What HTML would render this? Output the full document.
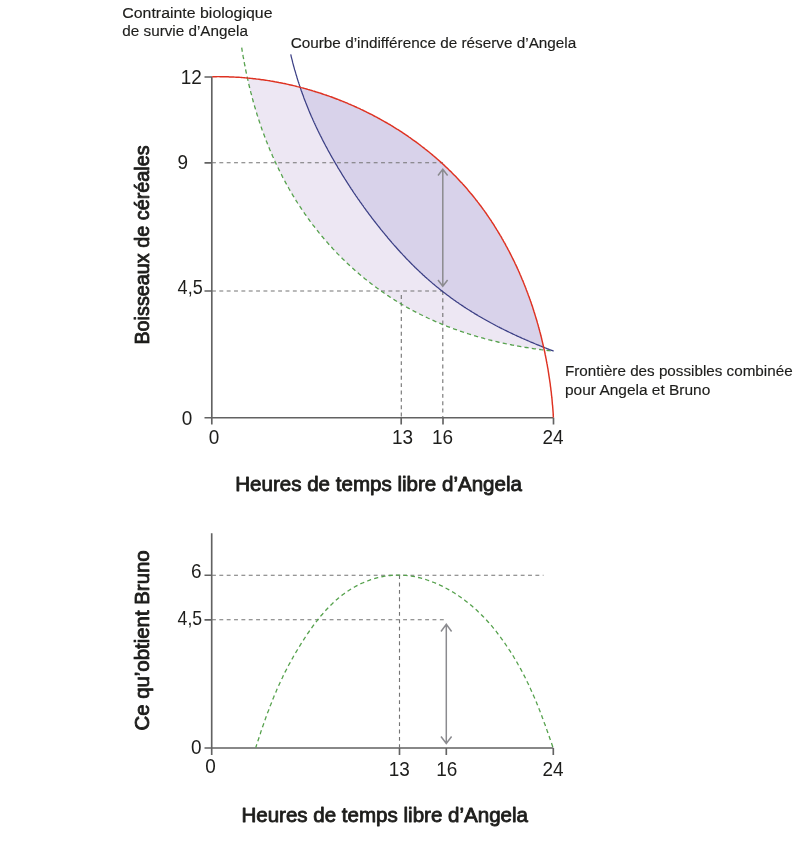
<!DOCTYPE html>
<html lang="fr">
<head>
<meta charset="utf-8">
<title>Frontière des possibles combinée pour Angela et Bruno</title>
<style>
html,body{margin:0;padding:0;background:#fff;}
body{width:810px;height:842px;overflow:hidden;}
svg{display:block;}
text{font-family:"Liberation Sans",sans-serif;fill:#1d1d1b;}
.tick{font-size:20.4px;}
.lab{font-size:15.2px;stroke:#1d1d1b;stroke-width:.15px;}
.ttl{font-size:20.2px;stroke:#1d1d1b;stroke-width:.85px;stroke-linejoin:round;}
.ax{stroke:#626262;stroke-width:1.65;fill:none;}
.dash{stroke:#747474;stroke-width:1.12;fill:none;stroke-dasharray:3.9 3.45;}
.arr{stroke:#8b8b8f;stroke-width:1.5;fill:none;}
.grn{stroke:#55a14c;stroke-width:1.3;fill:none;stroke-dasharray:4.2 3.2;}
.red{stroke:#de3222;stroke-width:1.45;fill:none;}
.blu{stroke:#3b3f85;stroke-width:1.25;fill:none;}
</style>
</head>
<body>
<svg width="810" height="842" viewBox="0 0 810 842">
<rect width="810" height="842" fill="#ffffff"/>
<!-- shaded regions -->
<path d="M246.9 78.0 L248.3 78.1 L249.6 78.2 L250.9 78.4 L252.3 78.5 L253.6 78.7 L254.9 78.8 L256.3 79.0 L257.6 79.1 L258.9 79.3 L260.3 79.5 L261.6 79.7 L262.9 79.8 L264.3 80.0 L265.6 80.2 L266.9 80.4 L268.2 80.6 L269.6 80.8 L270.9 81.1 L272.2 81.3 L273.6 81.5 L274.9 81.8 L276.2 82.0 L277.5 82.2 L278.9 82.5 L280.2 82.7 L281.5 83.0 L282.8 83.3 L284.2 83.5 L285.5 83.8 L286.8 84.1 L288.1 84.4 L289.4 84.7 L290.7 85.0 L292.1 85.3 L293.4 85.6 L294.7 85.9 L296.0 86.2 L297.3 86.6 L298.6 86.9 L299.9 87.2 L301.2 87.6 L302.5 87.9 L303.8 88.3 L305.2 88.6 L306.5 89.0 L307.8 89.4 L309.1 89.7 L310.4 90.1 L311.7 90.5 L312.9 90.9 L314.2 91.3 L315.5 91.7 L316.8 92.1 L318.1 92.5 L319.4 92.9 L320.7 93.3 L322.0 93.7 L323.3 94.2 L324.5 94.6 L325.8 95.0 L327.1 95.5 L328.4 95.9 L329.7 96.4 L330.9 96.8 L332.2 97.3 L333.5 97.8 L334.7 98.2 L336.0 98.7 L337.3 99.2 L338.5 99.7 L339.8 100.2 L341.1 100.7 L342.3 101.2 L343.6 101.7 L344.8 102.2 L346.1 102.7 L347.3 103.2 L348.6 103.8 L349.8 104.3 L351.1 104.8 L352.3 105.4 L353.5 105.9 L354.8 106.5 L356.0 107.0 L357.2 107.6 L358.5 108.2 L359.7 108.7 L360.9 109.3 L362.2 109.9 L363.4 110.5 L364.6 111.1 L365.8 111.7 L367.0 112.3 L368.2 112.9 L369.4 113.5 L370.7 114.1 L371.9 114.7 L373.1 115.3 L374.3 116.0 L375.4 116.6 L376.6 117.2 L377.8 117.9 L379.0 118.5 L380.2 119.2 L381.4 119.8 L382.6 120.5 L383.7 121.2 L384.9 121.8 L386.1 122.5 L387.3 123.2 L388.4 123.9 L389.6 124.5 L390.7 125.2 L391.9 125.9 L393.1 126.6 L394.2 127.4 L395.4 128.1 L396.5 128.8 L397.6 129.5 L398.8 130.2 L399.9 131.0 L401.1 131.7 L402.2 132.4 L403.3 133.2 L404.4 133.9 L405.5 134.7 L406.7 135.4 L407.8 136.2 L408.9 137.0 L410.0 137.7 L411.1 138.5 L412.2 139.3 L413.3 140.1 L414.4 140.8 L415.5 141.6 L416.6 142.4 L417.6 143.2 L418.7 144.0 L419.8 144.8 L420.9 145.7 L421.9 146.5 L423.0 147.3 L424.1 148.1 L425.1 149.0 L426.2 149.8 L427.2 150.6 L428.3 151.5 L429.3 152.3 L430.4 153.2 L431.4 154.0 L432.4 154.9 L433.4 155.8 L434.5 156.6 L435.5 157.5 L436.5 158.4 L437.5 159.3 L438.5 160.1 L439.5 161.0 L440.5 161.9 L441.5 162.8 L442.5 163.7 L443.5 164.6 L444.5 165.6 L445.5 166.5 L446.4 167.4 L447.4 168.3 L448.4 169.2 L449.3 170.2 L450.3 171.1 L451.3 172.0 L452.2 173.0 L453.1 173.9 L454.1 174.9 L455.0 175.8 L456.0 176.8 L456.9 177.8 L457.8 178.7 L458.7 179.7 L459.6 180.7 L460.5 181.7 L461.5 182.6 L462.4 183.6 L463.2 184.6 L464.1 185.6 L465.0 186.6 L465.9 187.6 L466.8 188.6 L467.7 189.6 L468.5 190.7 L469.4 191.7 L470.2 192.7 L471.1 193.7 L472.0 194.8 L472.8 195.8 L473.6 196.8 L474.5 197.9 L475.3 198.9 L476.1 200.0 L477.0 201.0 L477.8 202.1 L478.6 203.1 L479.4 204.2 L480.2 205.3 L481.0 206.3 L481.8 207.4 L482.6 208.5 L483.4 209.6 L484.2 210.6 L484.9 211.7 L485.7 212.8 L486.5 213.9 L487.2 215.0 L488.0 216.1 L488.7 217.2 L489.5 218.3 L490.2 219.4 L491.0 220.5 L491.7 221.7 L492.4 222.8 L493.2 223.9 L493.9 225.0 L494.6 226.2 L495.3 227.3 L496.0 228.4 L496.7 229.6 L497.4 230.7 L498.1 231.8 L498.8 233.0 L499.5 234.1 L500.2 235.3 L500.9 236.4 L501.6 237.6 L502.2 238.8 L502.9 239.9 L503.5 241.1 L504.2 242.3 L504.9 243.4 L505.5 244.6 L506.1 245.8 L506.8 247.0 L507.4 248.1 L508.0 249.3 L508.7 250.5 L509.3 251.7 L509.9 252.9 L510.5 254.1 L511.1 255.3 L511.7 256.5 L512.3 257.7 L512.9 258.9 L513.5 260.1 L514.1 261.3 L514.7 262.5 L515.2 263.7 L515.8 264.9 L516.4 266.1 L517.0 267.4 L517.5 268.6 L518.1 269.8 L518.6 271.0 L519.2 272.3 L519.7 273.5 L520.2 274.7 L520.8 276.0 L521.3 277.2 L521.8 278.4 L522.3 279.7 L522.9 280.9 L523.4 282.2 L523.9 283.4 L524.4 284.7 L524.9 285.9 L525.4 287.2 L525.9 288.4 L526.3 289.7 L526.8 290.9 L527.3 292.2 L527.8 293.4 L528.2 294.7 L528.7 296.0 L529.2 297.2 L529.6 298.5 L530.1 299.8 L530.5 301.0 L531.0 302.3 L531.4 303.6 L531.8 304.9 L532.3 306.1 L532.7 307.4 L533.1 308.7 L533.5 310.0 L533.9 311.3 L534.3 312.5 L534.7 313.8 L535.1 315.1 L535.5 316.4 L535.9 317.7 L536.3 319.0 L536.7 320.3 L537.1 321.6 L537.4 322.9 L537.8 324.1 L538.2 325.4 L538.5 326.7 L538.9 328.0 L539.2 329.3 L539.6 330.6 L539.9 331.9 L540.3 333.2 L540.6 334.5 L540.9 335.8 L541.3 337.1 L541.6 338.5 L541.9 339.8 L542.2 341.1 L542.5 342.4 L542.8 343.7 L543.1 345.0 L543.4 346.3 L543.7 347.6 L544.0 348.9 L544.3 350.2 L543.9 350.0 L542.5 349.8 L541.1 349.7 L539.8 349.5 L538.4 349.3 L537.1 349.1 L535.7 348.9 L534.4 348.8 L533.0 348.6 L531.7 348.4 L530.3 348.2 L529.0 348.0 L527.6 347.7 L526.3 347.5 L525.0 347.3 L523.7 347.1 L522.3 346.9 L521.0 346.7 L519.7 346.4 L518.4 346.2 L517.1 346.0 L515.8 345.7 L514.5 345.5 L513.2 345.2 L511.9 345.0 L510.6 344.7 L509.3 344.5 L508.1 344.2 L506.8 343.9 L505.5 343.7 L504.2 343.4 L503.0 343.1 L501.7 342.8 L500.5 342.6 L499.2 342.3 L497.9 342.0 L496.7 341.7 L495.4 341.4 L494.2 341.1 L493.0 340.8 L491.7 340.5 L490.5 340.2 L489.3 339.9 L488.0 339.5 L486.8 339.2 L485.6 338.9 L484.4 338.6 L483.2 338.2 L482.0 337.9 L480.8 337.6 L479.6 337.2 L478.4 336.9 L477.2 336.5 L476.0 336.2 L474.8 335.8 L473.6 335.5 L472.4 335.1 L471.2 334.8 L470.1 334.4 L468.9 334.0 L467.7 333.6 L466.6 333.3 L465.4 332.9 L464.2 332.5 L463.1 332.1 L461.9 331.7 L460.8 331.3 L459.6 330.9 L458.5 330.5 L457.3 330.1 L456.2 329.7 L455.1 329.3 L453.9 328.9 L452.8 328.5 L451.7 328.1 L450.6 327.6 L449.5 327.2 L448.4 326.8 L447.2 326.4 L446.1 325.9 L445.0 325.5 L443.9 325.0 L442.8 324.6 L441.7 324.1 L440.7 323.7 L439.6 323.2 L438.5 322.8 L437.4 322.3 L436.3 321.9 L435.2 321.4 L434.2 320.9 L433.1 320.4 L432.0 320.0 L431.0 319.5 L429.9 319.0 L428.9 318.5 L427.8 318.0 L426.8 317.5 L425.7 317.0 L424.7 316.5 L423.6 316.0 L422.6 315.5 L421.6 315.0 L420.5 314.5 L419.5 314.0 L418.5 313.5 L417.5 312.9 L416.4 312.4 L415.4 311.9 L414.4 311.4 L413.4 310.8 L412.4 310.3 L411.4 309.8 L410.4 309.2 L409.4 308.7 L408.4 308.1 L407.4 307.6 L406.4 307.0 L405.5 306.4 L404.5 305.9 L403.5 305.3 L402.5 304.8 L401.6 304.2 L400.6 303.6 L399.6 303.0 L398.7 302.5 L397.7 301.9 L396.7 301.3 L395.8 300.7 L394.8 300.1 L393.9 299.5 L392.9 298.9 L392.0 298.3 L391.1 297.7 L390.1 297.1 L389.2 296.5 L388.3 295.9 L387.3 295.3 L386.4 294.6 L385.5 294.0 L384.6 293.4 L383.7 292.8 L382.8 292.1 L381.8 291.5 L380.9 290.9 L380.0 290.2 L379.1 289.6 L378.2 288.9 L377.3 288.3 L376.4 287.6 L375.6 287.0 L374.7 286.3 L373.8 285.7 L372.9 285.0 L372.0 284.3 L371.2 283.7 L370.3 283.0 L369.4 282.3 L368.6 281.7 L367.7 281.0 L366.8 280.3 L366.0 279.6 L365.1 278.9 L364.3 278.2 L363.4 277.5 L362.6 276.8 L361.7 276.1 L360.9 275.4 L360.1 274.7 L359.2 274.0 L358.4 273.3 L357.6 272.6 L356.7 271.9 L355.9 271.2 L355.1 270.4 L354.3 269.7 L353.5 269.0 L352.7 268.3 L351.8 267.5 L351.0 266.8 L350.2 266.0 L349.4 265.3 L348.6 264.6 L347.8 263.8 L347.0 263.1 L346.3 262.3 L345.5 261.6 L344.7 260.8 L343.9 260.0 L343.1 259.3 L342.3 258.5 L341.6 257.7 L340.8 257.0 L340.0 256.2 L339.3 255.4 L338.5 254.6 L337.7 253.9 L337.0 253.1 L336.2 252.3 L335.5 251.5 L334.7 250.7 L334.0 249.9 L333.2 249.1 L332.5 248.3 L331.8 247.5 L331.0 246.7 L330.3 245.9 L329.6 245.1 L328.8 244.3 L328.1 243.4 L327.4 242.6 L326.7 241.8 L326.0 241.0 L325.2 240.1 L324.5 239.3 L323.8 238.5 L323.1 237.6 L322.4 236.8 L321.7 236.0 L321.0 235.1 L320.3 234.3 L319.6 233.4 L318.9 232.6 L318.2 231.7 L317.6 230.9 L316.9 230.0 L316.2 229.1 L315.5 228.3 L314.8 227.4 L314.2 226.5 L313.5 225.7 L312.8 224.8 L312.2 223.9 L311.5 223.0 L310.8 222.2 L310.2 221.3 L309.5 220.4 L308.9 219.5 L308.2 218.6 L307.6 217.7 L306.9 216.8 L306.3 215.9 L305.7 215.0 L305.0 214.1 L304.4 213.2 L303.8 212.3 L303.1 211.3 L302.5 210.4 L301.9 209.5 L301.3 208.6 L300.7 207.7 L300.0 206.7 L299.4 205.8 L298.8 204.9 L298.2 203.9 L297.6 203.0 L297.0 202.0 L296.4 201.1 L295.8 200.1 L295.2 199.2 L294.7 198.2 L294.1 197.3 L293.5 196.3 L292.9 195.4 L292.3 194.4 L291.8 193.4 L291.2 192.5 L290.6 191.5 L290.0 190.5 L289.5 189.5 L288.9 188.5 L288.4 187.6 L287.8 186.6 L287.3 185.6 L286.7 184.6 L286.2 183.6 L285.6 182.6 L285.1 181.6 L284.5 180.6 L284.0 179.6 L283.5 178.6 L282.9 177.6 L282.4 176.6 L281.9 175.5 L281.4 174.5 L280.8 173.5 L280.3 172.5 L279.8 171.4 L279.3 170.4 L278.8 169.4 L278.3 168.3 L277.8 167.3 L277.3 166.3 L276.8 165.2 L276.3 164.2 L275.8 163.1 L275.3 162.1 L274.8 161.0 L274.3 160.0 L273.8 158.9 L273.4 157.8 L272.9 156.8 L272.4 155.7 L272.0 154.6 L271.5 153.5 L271.0 152.5 L270.6 151.4 L270.1 150.3 L269.6 149.2 L269.2 148.1 L268.7 147.0 L268.3 145.9 L267.9 144.8 L267.4 143.7 L267.0 142.6 L266.5 141.5 L266.1 140.4 L265.7 139.3 L265.3 138.2 L264.8 137.1 L264.4 135.9 L264.0 134.8 L263.6 133.7 L263.2 132.6 L262.8 131.4 L262.3 130.3 L261.9 129.2 L261.5 128.0 L261.1 126.9 L260.7 125.7 L260.4 124.6 L260.0 123.4 L259.6 122.3 L259.2 121.1 L258.8 119.9 L258.4 118.8 L258.1 117.6 L257.7 116.4 L257.3 115.3 L256.9 114.1 L256.6 112.9 L256.2 111.7 L255.9 110.6 L255.5 109.4 L255.2 108.2 L254.8 107.0 L254.5 105.8 L254.1 104.6 L253.8 103.4 L253.4 102.2 L253.1 101.0 L252.8 99.8 L252.4 98.6 L252.1 97.3 L251.8 96.1 L251.5 94.9 L251.2 93.7 L250.8 92.4 L250.5 91.2 L250.2 90.0 L249.9 88.7 L249.6 87.5 L249.3 86.3 L249.0 85.0 L248.7 83.8 L248.4 82.5 L248.1 81.3 L247.9 80.0 L247.6 78.7 L247.3 77.5 Z" fill="#ede7f3"/>
<path d="M299.9 87.2 L301.2 87.6 L302.5 87.9 L303.8 88.3 L305.2 88.6 L306.5 89.0 L307.8 89.4 L309.1 89.7 L310.4 90.1 L311.7 90.5 L312.9 90.9 L314.2 91.3 L315.5 91.7 L316.8 92.1 L318.1 92.5 L319.4 92.9 L320.7 93.3 L322.0 93.7 L323.3 94.2 L324.5 94.6 L325.8 95.0 L327.1 95.5 L328.4 95.9 L329.7 96.4 L330.9 96.8 L332.2 97.3 L333.5 97.8 L334.7 98.2 L336.0 98.7 L337.3 99.2 L338.5 99.7 L339.8 100.2 L341.1 100.7 L342.3 101.2 L343.6 101.7 L344.8 102.2 L346.1 102.7 L347.3 103.2 L348.6 103.8 L349.8 104.3 L351.1 104.8 L352.3 105.4 L353.5 105.9 L354.8 106.5 L356.0 107.0 L357.2 107.6 L358.5 108.2 L359.7 108.7 L360.9 109.3 L362.2 109.9 L363.4 110.5 L364.6 111.1 L365.8 111.7 L367.0 112.3 L368.2 112.9 L369.4 113.5 L370.7 114.1 L371.9 114.7 L373.1 115.3 L374.3 116.0 L375.4 116.6 L376.6 117.2 L377.8 117.9 L379.0 118.5 L380.2 119.2 L381.4 119.8 L382.6 120.5 L383.7 121.2 L384.9 121.8 L386.1 122.5 L387.3 123.2 L388.4 123.9 L389.6 124.5 L390.7 125.2 L391.9 125.9 L393.1 126.6 L394.2 127.4 L395.4 128.1 L396.5 128.8 L397.6 129.5 L398.8 130.2 L399.9 131.0 L401.1 131.7 L402.2 132.4 L403.3 133.2 L404.4 133.9 L405.5 134.7 L406.7 135.4 L407.8 136.2 L408.9 137.0 L410.0 137.7 L411.1 138.5 L412.2 139.3 L413.3 140.1 L414.4 140.8 L415.5 141.6 L416.6 142.4 L417.6 143.2 L418.7 144.0 L419.8 144.8 L420.9 145.7 L421.9 146.5 L423.0 147.3 L424.1 148.1 L425.1 149.0 L426.2 149.8 L427.2 150.6 L428.3 151.5 L429.3 152.3 L430.4 153.2 L431.4 154.0 L432.4 154.9 L433.4 155.8 L434.5 156.6 L435.5 157.5 L436.5 158.4 L437.5 159.3 L438.5 160.1 L439.5 161.0 L440.5 161.9 L441.5 162.8 L442.5 163.7 L443.5 164.6 L444.5 165.6 L445.5 166.5 L446.4 167.4 L447.4 168.3 L448.4 169.2 L449.3 170.2 L450.3 171.1 L451.3 172.0 L452.2 173.0 L453.1 173.9 L454.1 174.9 L455.0 175.8 L456.0 176.8 L456.9 177.8 L457.8 178.7 L458.7 179.7 L459.6 180.7 L460.5 181.7 L461.5 182.6 L462.4 183.6 L463.2 184.6 L464.1 185.6 L465.0 186.6 L465.9 187.6 L466.8 188.6 L467.7 189.6 L468.5 190.7 L469.4 191.7 L470.2 192.7 L471.1 193.7 L472.0 194.8 L472.8 195.8 L473.6 196.8 L474.5 197.9 L475.3 198.9 L476.1 200.0 L477.0 201.0 L477.8 202.1 L478.6 203.1 L479.4 204.2 L480.2 205.3 L481.0 206.3 L481.8 207.4 L482.6 208.5 L483.4 209.6 L484.2 210.6 L484.9 211.7 L485.7 212.8 L486.5 213.9 L487.2 215.0 L488.0 216.1 L488.7 217.2 L489.5 218.3 L490.2 219.4 L491.0 220.5 L491.7 221.7 L492.4 222.8 L493.2 223.9 L493.9 225.0 L494.6 226.2 L495.3 227.3 L496.0 228.4 L496.7 229.6 L497.4 230.7 L498.1 231.8 L498.8 233.0 L499.5 234.1 L500.2 235.3 L500.9 236.4 L501.6 237.6 L502.2 238.8 L502.9 239.9 L503.5 241.1 L504.2 242.3 L504.9 243.4 L505.5 244.6 L506.1 245.8 L506.8 247.0 L507.4 248.1 L508.0 249.3 L508.7 250.5 L509.3 251.7 L509.9 252.9 L510.5 254.1 L511.1 255.3 L511.7 256.5 L512.3 257.7 L512.9 258.9 L513.5 260.1 L514.1 261.3 L514.7 262.5 L515.2 263.7 L515.8 264.9 L516.4 266.1 L517.0 267.4 L517.5 268.6 L518.1 269.8 L518.6 271.0 L519.2 272.3 L519.7 273.5 L520.2 274.7 L520.8 276.0 L521.3 277.2 L521.8 278.4 L522.3 279.7 L522.9 280.9 L523.4 282.2 L523.9 283.4 L524.4 284.7 L524.9 285.9 L525.4 287.2 L525.9 288.4 L526.3 289.7 L526.8 290.9 L527.3 292.2 L527.8 293.4 L528.2 294.7 L528.7 296.0 L529.2 297.2 L529.6 298.5 L530.1 299.8 L530.5 301.0 L531.0 302.3 L531.4 303.6 L531.8 304.9 L532.3 306.1 L532.7 307.4 L533.1 308.7 L533.5 310.0 L533.9 311.3 L534.3 312.5 L534.7 313.8 L535.1 315.1 L535.5 316.4 L535.9 317.7 L536.3 319.0 L536.7 320.3 L537.1 321.6 L537.4 322.9 L537.8 324.1 L538.2 325.4 L538.5 326.7 L538.9 328.0 L539.2 329.3 L539.6 330.6 L539.9 331.9 L540.3 333.2 L540.6 334.5 L540.9 335.8 L541.3 337.1 L541.6 338.5 L541.9 339.8 L542.2 341.1 L542.5 342.4 L542.8 343.7 L543.1 345.0 L543.4 346.3 L543.7 347.6 L543.5 347.2 L542.5 346.8 L541.5 346.4 L540.5 346.0 L539.5 345.6 L538.5 345.2 L537.5 344.8 L536.5 344.4 L535.5 344.0 L534.5 343.5 L533.5 343.1 L532.5 342.7 L531.5 342.3 L530.5 341.9 L529.6 341.5 L528.6 341.0 L527.6 340.6 L526.6 340.2 L525.6 339.8 L524.7 339.3 L523.7 338.9 L522.7 338.5 L521.8 338.1 L520.8 337.6 L519.8 337.2 L518.9 336.7 L517.9 336.3 L516.9 335.9 L516.0 335.4 L515.0 335.0 L514.1 334.5 L513.1 334.1 L512.2 333.6 L511.2 333.2 L510.3 332.7 L509.3 332.3 L508.4 331.8 L507.4 331.4 L506.5 330.9 L505.5 330.4 L504.6 330.0 L503.7 329.5 L502.7 329.0 L501.8 328.6 L500.9 328.1 L499.9 327.6 L499.0 327.1 L498.1 326.7 L497.2 326.2 L496.2 325.7 L495.3 325.2 L494.4 324.7 L493.5 324.2 L492.6 323.8 L491.7 323.3 L490.7 322.8 L489.8 322.3 L488.9 321.8 L488.0 321.3 L487.1 320.8 L486.2 320.3 L485.3 319.8 L484.4 319.3 L483.5 318.8 L482.6 318.2 L481.8 317.7 L480.9 317.2 L480.0 316.7 L479.1 316.2 L478.2 315.7 L477.3 315.1 L476.5 314.6 L475.6 314.1 L474.7 313.6 L473.8 313.0 L473.0 312.5 L472.1 312.0 L471.2 311.4 L470.4 310.9 L469.5 310.3 L468.6 309.8 L467.8 309.3 L466.9 308.7 L466.1 308.2 L465.2 307.6 L464.4 307.1 L463.5 306.5 L462.7 305.9 L461.8 305.4 L461.0 304.8 L460.2 304.3 L459.3 303.7 L458.5 303.1 L457.7 302.5 L456.8 302.0 L456.0 301.4 L455.2 300.8 L454.4 300.2 L453.5 299.7 L452.7 299.1 L451.9 298.5 L451.1 297.9 L450.3 297.3 L449.5 296.7 L448.7 296.1 L447.9 295.5 L447.1 294.9 L446.3 294.3 L445.5 293.7 L444.7 293.1 L443.9 292.5 L443.1 291.9 L442.3 291.3 L441.5 290.6 L440.7 290.0 L440.0 289.4 L439.2 288.8 L438.4 288.1 L437.6 287.5 L436.9 286.9 L436.1 286.3 L435.3 285.6 L434.6 285.0 L433.8 284.3 L433.0 283.7 L432.3 283.1 L431.5 282.4 L430.8 281.8 L430.0 281.1 L429.3 280.5 L428.5 279.8 L427.8 279.1 L427.0 278.5 L426.3 277.8 L425.5 277.2 L424.8 276.5 L424.1 275.8 L423.3 275.2 L422.6 274.5 L421.9 273.8 L421.2 273.1 L420.4 272.5 L419.7 271.8 L419.0 271.1 L418.3 270.4 L417.6 269.7 L416.8 269.0 L416.1 268.3 L415.4 267.7 L414.7 267.0 L414.0 266.3 L413.3 265.6 L412.6 264.9 L411.9 264.2 L411.2 263.5 L410.5 262.8 L409.8 262.0 L409.1 261.3 L408.4 260.6 L407.7 259.9 L407.0 259.2 L406.3 258.5 L405.7 257.8 L405.0 257.0 L404.3 256.3 L403.6 255.6 L402.9 254.9 L402.3 254.2 L401.6 253.4 L400.9 252.7 L400.2 252.0 L399.6 251.2 L398.9 250.5 L398.2 249.8 L397.6 249.0 L396.9 248.3 L396.3 247.5 L395.6 246.8 L394.9 246.0 L394.3 245.3 L393.6 244.6 L393.0 243.8 L392.3 243.1 L391.7 242.3 L391.0 241.5 L390.4 240.8 L389.7 240.0 L389.1 239.3 L388.4 238.5 L387.8 237.8 L387.2 237.0 L386.5 236.2 L385.9 235.5 L385.2 234.7 L384.6 233.9 L384.0 233.2 L383.3 232.4 L382.7 231.6 L382.1 230.8 L381.5 230.1 L380.8 229.3 L380.2 228.5 L379.6 227.7 L379.0 227.0 L378.3 226.2 L377.7 225.4 L377.1 224.6 L376.5 223.8 L375.9 223.0 L375.3 222.2 L374.6 221.5 L374.0 220.7 L373.4 219.9 L372.8 219.1 L372.2 218.3 L371.6 217.5 L371.0 216.7 L370.4 215.9 L369.8 215.1 L369.2 214.3 L368.6 213.5 L368.0 212.7 L367.4 211.9 L366.8 211.1 L366.2 210.3 L365.6 209.4 L365.0 208.6 L364.4 207.8 L363.8 207.0 L363.3 206.2 L362.7 205.4 L362.1 204.6 L361.5 203.7 L360.9 202.9 L360.3 202.1 L359.8 201.3 L359.2 200.4 L358.6 199.6 L358.0 198.8 L357.5 198.0 L356.9 197.1 L356.3 196.3 L355.7 195.5 L355.2 194.6 L354.6 193.8 L354.0 193.0 L353.5 192.1 L352.9 191.3 L352.4 190.4 L351.8 189.6 L351.2 188.8 L350.7 187.9 L350.1 187.1 L349.6 186.2 L349.0 185.4 L348.5 184.5 L347.9 183.7 L347.4 182.8 L346.8 181.9 L346.3 181.1 L345.7 180.2 L345.2 179.4 L344.6 178.5 L344.1 177.7 L343.6 176.8 L343.0 175.9 L342.5 175.1 L341.9 174.2 L341.4 173.3 L340.9 172.4 L340.4 171.6 L339.8 170.7 L339.3 169.8 L338.8 169.0 L338.2 168.1 L337.7 167.2 L337.2 166.3 L336.7 165.4 L336.2 164.6 L335.6 163.7 L335.1 162.8 L334.6 161.9 L334.1 161.0 L333.6 160.1 L333.1 159.2 L332.6 158.3 L332.0 157.4 L331.5 156.5 L331.0 155.6 L330.5 154.7 L330.0 153.8 L329.5 152.9 L329.0 152.0 L328.5 151.1 L328.0 150.2 L327.5 149.3 L327.1 148.4 L326.6 147.5 L326.1 146.6 L325.6 145.7 L325.1 144.7 L324.6 143.8 L324.1 142.9 L323.7 142.0 L323.2 141.1 L322.7 140.1 L322.2 139.2 L321.8 138.3 L321.3 137.3 L320.8 136.4 L320.3 135.5 L319.9 134.5 L319.4 133.6 L319.0 132.7 L318.5 131.7 L318.0 130.8 L317.6 129.8 L317.1 128.9 L316.7 127.9 L316.2 127.0 L315.8 126.0 L315.3 125.1 L314.9 124.1 L314.4 123.1 L314.0 122.2 L313.6 121.2 L313.1 120.2 L312.7 119.3 L312.3 118.3 L311.8 117.3 L311.4 116.4 L311.0 115.4 L310.6 114.4 L310.1 113.4 L309.7 112.4 L309.3 111.4 L308.9 110.5 L308.5 109.5 L308.1 108.5 L307.7 107.5 L307.3 106.5 L306.9 105.5 L306.5 104.5 L306.1 103.5 L305.7 102.5 L305.3 101.4 L304.9 100.4 L304.5 99.4 L304.1 98.4 L303.7 97.4 L303.4 96.3 L303.0 95.3 L302.6 94.3 L302.2 93.3 L301.9 92.2 L301.5 91.2 L301.1 90.2 L300.8 89.1 L300.4 88.1 L300.1 87.0 Z" fill="#d8d2ea"/>
<!-- top chart axes -->
<path class="ax" d="M211.8 76.8V424.5 M204.5 417.7H553.5 M553.5 417.7V424.5 M401.2 417.7V424.5 M443 417.7V424.5 M204.5 77H212 M204.5 162.8H212 M204.5 291H212"/>
<!-- dashed guides -->
<path class="dash" d="M212 162.8H443 M212 291H443 M401.3 295V417.7 M442.8 291V417.7"/>
<!-- curves -->
<path class="grn" d="M241.7 47.6 L241.9 48.9 L242.1 50.3 L242.3 51.6 L242.6 52.9 L242.8 54.2 L243.0 55.6 L243.2 56.9 L243.5 58.2 L243.7 59.5 L243.9 60.8 L244.2 62.1 L244.4 63.4 L244.7 64.7 L244.9 66.0 L245.2 67.3 L245.4 68.6 L245.7 69.8 L245.9 71.1 L246.2 72.4 L246.5 73.7 L246.7 74.9 L247.0 76.2 L247.3 77.5 L247.6 78.7 L247.9 80.0 L248.1 81.3 L248.4 82.5 L248.7 83.8 L249.0 85.0 L249.3 86.3 L249.6 87.5 L249.9 88.7 L250.2 90.0 L250.5 91.2 L250.8 92.4 L251.2 93.7 L251.5 94.9 L251.8 96.1 L252.1 97.3 L252.4 98.6 L252.8 99.8 L253.1 101.0 L253.4 102.2 L253.8 103.4 L254.1 104.6 L254.5 105.8 L254.8 107.0 L255.2 108.2 L255.5 109.4 L255.9 110.6 L256.2 111.7 L256.6 112.9 L256.9 114.1 L257.3 115.3 L257.7 116.4 L258.1 117.6 L258.4 118.8 L258.8 119.9 L259.2 121.1 L259.6 122.3 L260.0 123.4 L260.4 124.6 L260.7 125.7 L261.1 126.9 L261.5 128.0 L261.9 129.2 L262.3 130.3 L262.8 131.4 L263.2 132.6 L263.6 133.7 L264.0 134.8 L264.4 135.9 L264.8 137.1 L265.3 138.2 L265.7 139.3 L266.1 140.4 L266.5 141.5 L267.0 142.6 L267.4 143.7 L267.9 144.8 L268.3 145.9 L268.7 147.0 L269.2 148.1 L269.6 149.2 L270.1 150.3 L270.6 151.4 L271.0 152.5 L271.5 153.5 L272.0 154.6 L272.4 155.7 L272.9 156.8 L273.4 157.8 L273.8 158.9 L274.3 160.0 L274.8 161.0 L275.3 162.1 L275.8 163.1 L276.3 164.2 L276.8 165.2 L277.3 166.3 L277.8 167.3 L278.3 168.3 L278.8 169.4 L279.3 170.4 L279.8 171.4 L280.3 172.5 L280.8 173.5 L281.4 174.5 L281.9 175.5 L282.4 176.6 L282.9 177.6 L283.5 178.6 L284.0 179.6 L284.5 180.6 L285.1 181.6 L285.6 182.6 L286.2 183.6 L286.7 184.6 L287.3 185.6 L287.8 186.6 L288.4 187.6 L288.9 188.5 L289.5 189.5 L290.0 190.5 L290.6 191.5 L291.2 192.5 L291.8 193.4 L292.3 194.4 L292.9 195.4 L293.5 196.3 L294.1 197.3 L294.7 198.2 L295.2 199.2 L295.8 200.1 L296.4 201.1 L297.0 202.0 L297.6 203.0 L298.2 203.9 L298.8 204.9 L299.4 205.8 L300.0 206.7 L300.7 207.7 L301.3 208.6 L301.9 209.5 L302.5 210.4 L303.1 211.3 L303.8 212.3 L304.4 213.2 L305.0 214.1 L305.7 215.0 L306.3 215.9 L306.9 216.8 L307.6 217.7 L308.2 218.6 L308.9 219.5 L309.5 220.4 L310.2 221.3 L310.8 222.2 L311.5 223.0 L312.2 223.9 L312.8 224.8 L313.5 225.7 L314.2 226.5 L314.8 227.4 L315.5 228.3 L316.2 229.1 L316.9 230.0 L317.6 230.9 L318.2 231.7 L318.9 232.6 L319.6 233.4 L320.3 234.3 L321.0 235.1 L321.7 236.0 L322.4 236.8 L323.1 237.6 L323.8 238.5 L324.5 239.3 L325.2 240.1 L326.0 241.0 L326.7 241.8 L327.4 242.6 L328.1 243.4 L328.8 244.3 L329.6 245.1 L330.3 245.9 L331.0 246.7 L331.8 247.5 L332.5 248.3 L333.2 249.1 L334.0 249.9 L334.7 250.7 L335.5 251.5 L336.2 252.3 L337.0 253.1 L337.7 253.9 L338.5 254.6 L339.3 255.4 L340.0 256.2 L340.8 257.0 L341.6 257.7 L342.3 258.5 L343.1 259.3 L343.9 260.0 L344.7 260.8 L345.5 261.6 L346.3 262.3 L347.0 263.1 L347.8 263.8 L348.6 264.6 L349.4 265.3 L350.2 266.0 L351.0 266.8 L351.8 267.5 L352.7 268.3 L353.5 269.0 L354.3 269.7 L355.1 270.4 L355.9 271.2 L356.7 271.9 L357.6 272.6 L358.4 273.3 L359.2 274.0 L360.1 274.7 L360.9 275.4 L361.7 276.1 L362.6 276.8 L363.4 277.5 L364.3 278.2 L365.1 278.9 L366.0 279.6 L366.8 280.3 L367.7 281.0 L368.6 281.7 L369.4 282.3 L370.3 283.0 L371.2 283.7 L372.0 284.3 L372.9 285.0 L373.8 285.7 L374.7 286.3 L375.6 287.0 L376.4 287.6 L377.3 288.3 L378.2 288.9 L379.1 289.6 L380.0 290.2 L380.9 290.9 L381.8 291.5 L382.8 292.1 L383.7 292.8 L384.6 293.4 L385.5 294.0 L386.4 294.6 L387.3 295.3 L388.3 295.9 L389.2 296.5 L390.1 297.1 L391.1 297.7 L392.0 298.3 L392.9 298.9 L393.9 299.5 L394.8 300.1 L395.8 300.7 L396.7 301.3 L397.7 301.9 L398.7 302.5 L399.6 303.0 L400.6 303.6 L401.6 304.2 L402.5 304.8 L403.5 305.3 L404.5 305.9 L405.5 306.4 L406.4 307.0 L407.4 307.6 L408.4 308.1 L409.4 308.7 L410.4 309.2 L411.4 309.8 L412.4 310.3 L413.4 310.8 L414.4 311.4 L415.4 311.9 L416.4 312.4 L417.5 312.9 L418.5 313.5 L419.5 314.0 L420.5 314.5 L421.6 315.0 L422.6 315.5 L423.6 316.0 L424.7 316.5 L425.7 317.0 L426.8 317.5 L427.8 318.0 L428.9 318.5 L429.9 319.0 L431.0 319.5 L432.0 320.0 L433.1 320.4 L434.2 320.9 L435.2 321.4 L436.3 321.9 L437.4 322.3 L438.5 322.8 L439.6 323.2 L440.7 323.7 L441.7 324.1 L442.8 324.6 L443.9 325.0 L445.0 325.5 L446.1 325.9 L447.2 326.4 L448.4 326.8 L449.5 327.2 L450.6 327.6 L451.7 328.1 L452.8 328.5 L453.9 328.9 L455.1 329.3 L456.2 329.7 L457.3 330.1 L458.5 330.5 L459.6 330.9 L460.8 331.3 L461.9 331.7 L463.1 332.1 L464.2 332.5 L465.4 332.9 L466.6 333.3 L467.7 333.6 L468.9 334.0 L470.1 334.4 L471.2 334.8 L472.4 335.1 L473.6 335.5 L474.8 335.8 L476.0 336.2 L477.2 336.5 L478.4 336.9 L479.6 337.2 L480.8 337.6 L482.0 337.9 L483.2 338.2 L484.4 338.6 L485.6 338.9 L486.8 339.2 L488.0 339.5 L489.3 339.9 L490.5 340.2 L491.7 340.5 L493.0 340.8 L494.2 341.1 L495.4 341.4 L496.7 341.7 L497.9 342.0 L499.2 342.3 L500.5 342.6 L501.7 342.8 L503.0 343.1 L504.2 343.4 L505.5 343.7 L506.8 343.9 L508.1 344.2 L509.3 344.5 L510.6 344.7 L511.9 345.0 L513.2 345.2 L514.5 345.5 L515.8 345.7 L517.1 346.0 L518.4 346.2 L519.7 346.4 L521.0 346.7 L522.3 346.9 L523.7 347.1 L525.0 347.3 L526.3 347.5 L527.6 347.7 L529.0 348.0 L530.3 348.2 L531.7 348.4 L533.0 348.6 L534.4 348.8 L535.7 348.9 L537.1 349.1 L538.4 349.3 L539.8 349.5 L541.1 349.7 L542.5 349.8 L543.9 350.0 L545.3 350.2 L546.6 350.3 L548.0 350.5 L549.4 350.7 L550.8 350.8 L552.2 351.0 L553.6 351.1"/>
<path class="blu" d="M290.7 54.3 L291.0 55.4 L291.2 56.6 L291.5 57.7 L291.8 58.8 L292.1 59.9 L292.4 61.1 L292.6 62.2 L292.9 63.3 L293.2 64.4 L293.5 65.5 L293.8 66.6 L294.1 67.7 L294.4 68.8 L294.7 69.9 L295.1 71.0 L295.4 72.1 L295.7 73.2 L296.0 74.2 L296.3 75.3 L296.7 76.4 L297.0 77.5 L297.3 78.5 L297.6 79.6 L298.0 80.7 L298.3 81.7 L298.7 82.8 L299.0 83.9 L299.4 84.9 L299.7 86.0 L300.1 87.0 L300.4 88.1 L300.8 89.1 L301.1 90.2 L301.5 91.2 L301.9 92.2 L302.2 93.3 L302.6 94.3 L303.0 95.3 L303.4 96.3 L303.7 97.4 L304.1 98.4 L304.5 99.4 L304.9 100.4 L305.3 101.4 L305.7 102.5 L306.1 103.5 L306.5 104.5 L306.9 105.5 L307.3 106.5 L307.7 107.5 L308.1 108.5 L308.5 109.5 L308.9 110.5 L309.3 111.4 L309.7 112.4 L310.1 113.4 L310.6 114.4 L311.0 115.4 L311.4 116.4 L311.8 117.3 L312.3 118.3 L312.7 119.3 L313.1 120.2 L313.6 121.2 L314.0 122.2 L314.4 123.1 L314.9 124.1 L315.3 125.1 L315.8 126.0 L316.2 127.0 L316.7 127.9 L317.1 128.9 L317.6 129.8 L318.0 130.8 L318.5 131.7 L319.0 132.7 L319.4 133.6 L319.9 134.5 L320.3 135.5 L320.8 136.4 L321.3 137.3 L321.8 138.3 L322.2 139.2 L322.7 140.1 L323.2 141.1 L323.7 142.0 L324.1 142.9 L324.6 143.8 L325.1 144.7 L325.6 145.7 L326.1 146.6 L326.6 147.5 L327.1 148.4 L327.5 149.3 L328.0 150.2 L328.5 151.1 L329.0 152.0 L329.5 152.9 L330.0 153.8 L330.5 154.7 L331.0 155.6 L331.5 156.5 L332.0 157.4 L332.6 158.3 L333.1 159.2 L333.6 160.1 L334.1 161.0 L334.6 161.9 L335.1 162.8 L335.6 163.7 L336.2 164.6 L336.7 165.4 L337.2 166.3 L337.7 167.2 L338.2 168.1 L338.8 169.0 L339.3 169.8 L339.8 170.7 L340.4 171.6 L340.9 172.4 L341.4 173.3 L341.9 174.2 L342.5 175.1 L343.0 175.9 L343.6 176.8 L344.1 177.7 L344.6 178.5 L345.2 179.4 L345.7 180.2 L346.3 181.1 L346.8 181.9 L347.4 182.8 L347.9 183.7 L348.5 184.5 L349.0 185.4 L349.6 186.2 L350.1 187.1 L350.7 187.9 L351.2 188.8 L351.8 189.6 L352.4 190.4 L352.9 191.3 L353.5 192.1 L354.0 193.0 L354.6 193.8 L355.2 194.6 L355.7 195.5 L356.3 196.3 L356.9 197.1 L357.5 198.0 L358.0 198.8 L358.6 199.6 L359.2 200.4 L359.8 201.3 L360.3 202.1 L360.9 202.9 L361.5 203.7 L362.1 204.6 L362.7 205.4 L363.3 206.2 L363.8 207.0 L364.4 207.8 L365.0 208.6 L365.6 209.4 L366.2 210.3 L366.8 211.1 L367.4 211.9 L368.0 212.7 L368.6 213.5 L369.2 214.3 L369.8 215.1 L370.4 215.9 L371.0 216.7 L371.6 217.5 L372.2 218.3 L372.8 219.1 L373.4 219.9 L374.0 220.7 L374.6 221.5 L375.3 222.2 L375.9 223.0 L376.5 223.8 L377.1 224.6 L377.7 225.4 L378.3 226.2 L379.0 227.0 L379.6 227.7 L380.2 228.5 L380.8 229.3 L381.5 230.1 L382.1 230.8 L382.7 231.6 L383.3 232.4 L384.0 233.2 L384.6 233.9 L385.2 234.7 L385.9 235.5 L386.5 236.2 L387.2 237.0 L387.8 237.8 L388.4 238.5 L389.1 239.3 L389.7 240.0 L390.4 240.8 L391.0 241.5 L391.7 242.3 L392.3 243.1 L393.0 243.8 L393.6 244.6 L394.3 245.3 L394.9 246.0 L395.6 246.8 L396.3 247.5 L396.9 248.3 L397.6 249.0 L398.2 249.8 L398.9 250.5 L399.6 251.2 L400.2 252.0 L400.9 252.7 L401.6 253.4 L402.3 254.2 L402.9 254.9 L403.6 255.6 L404.3 256.3 L405.0 257.0 L405.7 257.8 L406.3 258.5 L407.0 259.2 L407.7 259.9 L408.4 260.6 L409.1 261.3 L409.8 262.0 L410.5 262.8 L411.2 263.5 L411.9 264.2 L412.6 264.9 L413.3 265.6 L414.0 266.3 L414.7 267.0 L415.4 267.7 L416.1 268.3 L416.8 269.0 L417.6 269.7 L418.3 270.4 L419.0 271.1 L419.7 271.8 L420.4 272.5 L421.2 273.1 L421.9 273.8 L422.6 274.5 L423.3 275.2 L424.1 275.8 L424.8 276.5 L425.5 277.2 L426.3 277.8 L427.0 278.5 L427.8 279.1 L428.5 279.8 L429.3 280.5 L430.0 281.1 L430.8 281.8 L431.5 282.4 L432.3 283.1 L433.0 283.7 L433.8 284.3 L434.6 285.0 L435.3 285.6 L436.1 286.3 L436.9 286.9 L437.6 287.5 L438.4 288.1 L439.2 288.8 L440.0 289.4 L440.7 290.0 L441.5 290.6 L442.3 291.3 L443.1 291.9 L443.9 292.5 L444.7 293.1 L445.5 293.7 L446.3 294.3 L447.1 294.9 L447.9 295.5 L448.7 296.1 L449.5 296.7 L450.3 297.3 L451.1 297.9 L451.9 298.5 L452.7 299.1 L453.5 299.7 L454.4 300.2 L455.2 300.8 L456.0 301.4 L456.8 302.0 L457.7 302.5 L458.5 303.1 L459.3 303.7 L460.2 304.3 L461.0 304.8 L461.8 305.4 L462.7 305.9 L463.5 306.5 L464.4 307.1 L465.2 307.6 L466.1 308.2 L466.9 308.7 L467.8 309.3 L468.6 309.8 L469.5 310.3 L470.4 310.9 L471.2 311.4 L472.1 312.0 L473.0 312.5 L473.8 313.0 L474.7 313.6 L475.6 314.1 L476.5 314.6 L477.3 315.1 L478.2 315.7 L479.1 316.2 L480.0 316.7 L480.9 317.2 L481.8 317.7 L482.6 318.2 L483.5 318.8 L484.4 319.3 L485.3 319.8 L486.2 320.3 L487.1 320.8 L488.0 321.3 L488.9 321.8 L489.8 322.3 L490.7 322.8 L491.7 323.3 L492.6 323.8 L493.5 324.2 L494.4 324.7 L495.3 325.2 L496.2 325.7 L497.2 326.2 L498.1 326.7 L499.0 327.1 L499.9 327.6 L500.9 328.1 L501.8 328.6 L502.7 329.0 L503.7 329.5 L504.6 330.0 L505.5 330.4 L506.5 330.9 L507.4 331.4 L508.4 331.8 L509.3 332.3 L510.3 332.7 L511.2 333.2 L512.2 333.6 L513.1 334.1 L514.1 334.5 L515.0 335.0 L516.0 335.4 L516.9 335.9 L517.9 336.3 L518.9 336.7 L519.8 337.2 L520.8 337.6 L521.8 338.1 L522.7 338.5 L523.7 338.9 L524.7 339.3 L525.6 339.8 L526.6 340.2 L527.6 340.6 L528.6 341.0 L529.6 341.5 L530.5 341.9 L531.5 342.3 L532.5 342.7 L533.5 343.1 L534.5 343.5 L535.5 344.0 L536.5 344.4 L537.5 344.8 L538.5 345.2 L539.5 345.6 L540.5 346.0 L541.5 346.4 L542.5 346.8 L543.5 347.2 L544.5 347.6 L545.5 348.0 L546.5 348.4 L547.5 348.8 L548.5 349.2 L549.5 349.6 L550.5 349.9 L551.6 350.3 L552.6 350.7 L553.6 351.1"/>
<path class="red" d="M212.2 76.7 L213.5 76.7 L214.9 76.7 L216.2 76.7 L217.5 76.6 L218.9 76.6 L220.2 76.7 L221.5 76.7 L222.9 76.7 L224.2 76.7 L225.5 76.7 L226.9 76.8 L228.2 76.8 L229.6 76.9 L230.9 76.9 L232.2 77.0 L233.6 77.0 L234.9 77.1 L236.2 77.2 L237.6 77.3 L238.9 77.3 L240.2 77.4 L241.6 77.5 L242.9 77.6 L244.3 77.7 L245.6 77.9 L246.9 78.0 L248.3 78.1 L249.6 78.2 L250.9 78.4 L252.3 78.5 L253.6 78.7 L254.9 78.8 L256.3 79.0 L257.6 79.1 L258.9 79.3 L260.3 79.5 L261.6 79.7 L262.9 79.8 L264.3 80.0 L265.6 80.2 L266.9 80.4 L268.2 80.6 L269.6 80.8 L270.9 81.1 L272.2 81.3 L273.6 81.5 L274.9 81.8 L276.2 82.0 L277.5 82.2 L278.9 82.5 L280.2 82.7 L281.5 83.0 L282.8 83.3 L284.2 83.5 L285.5 83.8 L286.8 84.1 L288.1 84.4 L289.4 84.7 L290.7 85.0 L292.1 85.3 L293.4 85.6 L294.7 85.9 L296.0 86.2 L297.3 86.6 L298.6 86.9 L299.9 87.2 L301.2 87.6 L302.5 87.9 L303.8 88.3 L305.2 88.6 L306.5 89.0 L307.8 89.4 L309.1 89.7 L310.4 90.1 L311.7 90.5 L312.9 90.9 L314.2 91.3 L315.5 91.7 L316.8 92.1 L318.1 92.5 L319.4 92.9 L320.7 93.3 L322.0 93.7 L323.3 94.2 L324.5 94.6 L325.8 95.0 L327.1 95.5 L328.4 95.9 L329.7 96.4 L330.9 96.8 L332.2 97.3 L333.5 97.8 L334.7 98.2 L336.0 98.7 L337.3 99.2 L338.5 99.7 L339.8 100.2 L341.1 100.7 L342.3 101.2 L343.6 101.7 L344.8 102.2 L346.1 102.7 L347.3 103.2 L348.6 103.8 L349.8 104.3 L351.1 104.8 L352.3 105.4 L353.5 105.9 L354.8 106.5 L356.0 107.0 L357.2 107.6 L358.5 108.2 L359.7 108.7 L360.9 109.3 L362.2 109.9 L363.4 110.5 L364.6 111.1 L365.8 111.7 L367.0 112.3 L368.2 112.9 L369.4 113.5 L370.7 114.1 L371.9 114.7 L373.1 115.3 L374.3 116.0 L375.4 116.6 L376.6 117.2 L377.8 117.9 L379.0 118.5 L380.2 119.2 L381.4 119.8 L382.6 120.5 L383.7 121.2 L384.9 121.8 L386.1 122.5 L387.3 123.2 L388.4 123.9 L389.6 124.5 L390.7 125.2 L391.9 125.9 L393.1 126.6 L394.2 127.4 L395.4 128.1 L396.5 128.8 L397.6 129.5 L398.8 130.2 L399.9 131.0 L401.1 131.7 L402.2 132.4 L403.3 133.2 L404.4 133.9 L405.5 134.7 L406.7 135.4 L407.8 136.2 L408.9 137.0 L410.0 137.7 L411.1 138.5 L412.2 139.3 L413.3 140.1 L414.4 140.8 L415.5 141.6 L416.6 142.4 L417.6 143.2 L418.7 144.0 L419.8 144.8 L420.9 145.7 L421.9 146.5 L423.0 147.3 L424.1 148.1 L425.1 149.0 L426.2 149.8 L427.2 150.6 L428.3 151.5 L429.3 152.3 L430.4 153.2 L431.4 154.0 L432.4 154.9 L433.4 155.8 L434.5 156.6 L435.5 157.5 L436.5 158.4 L437.5 159.3 L438.5 160.1 L439.5 161.0 L440.5 161.9 L441.5 162.8 L442.5 163.7 L443.5 164.6 L444.5 165.6 L445.5 166.5 L446.4 167.4 L447.4 168.3 L448.4 169.2 L449.3 170.2 L450.3 171.1 L451.3 172.0 L452.2 173.0 L453.1 173.9 L454.1 174.9 L455.0 175.8 L456.0 176.8 L456.9 177.8 L457.8 178.7 L458.7 179.7 L459.6 180.7 L460.5 181.7 L461.5 182.6 L462.4 183.6 L463.2 184.6 L464.1 185.6 L465.0 186.6 L465.9 187.6 L466.8 188.6 L467.7 189.6 L468.5 190.7 L469.4 191.7 L470.2 192.7 L471.1 193.7 L472.0 194.8 L472.8 195.8 L473.6 196.8 L474.5 197.9 L475.3 198.9 L476.1 200.0 L477.0 201.0 L477.8 202.1 L478.6 203.1 L479.4 204.2 L480.2 205.3 L481.0 206.3 L481.8 207.4 L482.6 208.5 L483.4 209.6 L484.2 210.6 L484.9 211.7 L485.7 212.8 L486.5 213.9 L487.2 215.0 L488.0 216.1 L488.7 217.2 L489.5 218.3 L490.2 219.4 L491.0 220.5 L491.7 221.7 L492.4 222.8 L493.2 223.9 L493.9 225.0 L494.6 226.2 L495.3 227.3 L496.0 228.4 L496.7 229.6 L497.4 230.7 L498.1 231.8 L498.8 233.0 L499.5 234.1 L500.2 235.3 L500.9 236.4 L501.6 237.6 L502.2 238.8 L502.9 239.9 L503.5 241.1 L504.2 242.3 L504.9 243.4 L505.5 244.6 L506.1 245.8 L506.8 247.0 L507.4 248.1 L508.0 249.3 L508.7 250.5 L509.3 251.7 L509.9 252.9 L510.5 254.1 L511.1 255.3 L511.7 256.5 L512.3 257.7 L512.9 258.9 L513.5 260.1 L514.1 261.3 L514.7 262.5 L515.2 263.7 L515.8 264.9 L516.4 266.1 L517.0 267.4 L517.5 268.6 L518.1 269.8 L518.6 271.0 L519.2 272.3 L519.7 273.5 L520.2 274.7 L520.8 276.0 L521.3 277.2 L521.8 278.4 L522.3 279.7 L522.9 280.9 L523.4 282.2 L523.9 283.4 L524.4 284.7 L524.9 285.9 L525.4 287.2 L525.9 288.4 L526.3 289.7 L526.8 290.9 L527.3 292.2 L527.8 293.4 L528.2 294.7 L528.7 296.0 L529.2 297.2 L529.6 298.5 L530.1 299.8 L530.5 301.0 L531.0 302.3 L531.4 303.6 L531.8 304.9 L532.3 306.1 L532.7 307.4 L533.1 308.7 L533.5 310.0 L533.9 311.3 L534.3 312.5 L534.7 313.8 L535.1 315.1 L535.5 316.4 L535.9 317.7 L536.3 319.0 L536.7 320.3 L537.1 321.6 L537.4 322.9 L537.8 324.1 L538.2 325.4 L538.5 326.7 L538.9 328.0 L539.2 329.3 L539.6 330.6 L539.9 331.9 L540.3 333.2 L540.6 334.5 L540.9 335.8 L541.3 337.1 L541.6 338.5 L541.9 339.8 L542.2 341.1 L542.5 342.4 L542.8 343.7 L543.1 345.0 L543.4 346.3 L543.7 347.6 L544.0 348.9 L544.3 350.2 L544.6 351.5 L544.9 352.9 L545.1 354.2 L545.4 355.5 L545.7 356.8 L545.9 358.1 L546.2 359.4 L546.4 360.8 L546.7 362.1 L546.9 363.4 L547.2 364.7 L547.4 366.0 L547.6 367.3 L547.9 368.7 L548.1 370.0 L548.3 371.3 L548.5 372.6 L548.7 373.9 L548.9 375.3 L549.1 376.6 L549.3 377.9 L549.5 379.2 L549.7 380.5 L549.9 381.9 L550.1 383.2 L550.3 384.5 L550.4 385.8 L550.6 387.2 L550.8 388.5 L550.9 389.8 L551.1 391.1 L551.3 392.4 L551.4 393.8 L551.5 395.1 L551.7 396.4 L551.8 397.7 L552.0 399.0 L552.1 400.4 L552.2 401.7 L552.3 403.0 L552.4 404.3 L552.6 405.6 L552.7 407.0 L552.8 408.3 L552.9 409.6 L553.0 410.9 L553.1 412.2 L553.2 413.6 L553.2 414.9 L553.3 416.2 L553.4 417.5"/>
<!-- double arrow top -->
<path class="arr" d="M442.8 169.5V286 M438 175.5L442.8 169.3L447.6 175.5 M438 280L442.8 286.2L447.6 280"/>
<!-- top chart labels -->
<text class="lab" x="122.3" y="17.8" textLength="150.2" lengthAdjust="spacingAndGlyphs">Contrainte biologique</text>
<text class="lab" x="122.3" y="36" textLength="125.6" lengthAdjust="spacingAndGlyphs">de survie d’Angela</text>
<text class="lab" x="290.7" y="47.6" textLength="285.6" lengthAdjust="spacingAndGlyphs">Courbe d’indifférence de réserve d’Angela</text>
<text class="lab" x="565" y="376.4" textLength="227.6" lengthAdjust="spacingAndGlyphs">Frontière des possibles combinée</text>
<text class="lab" x="565" y="394.7" textLength="145.3" lengthAdjust="spacingAndGlyphs">pour Angela et Bruno</text>
<text class="tick" transform="translate(180.8 83.5) scale(.93 1)">12</text>
<text class="tick" transform="translate(177.6 168.9) scale(.93 1)">9</text>
<text class="tick" transform="translate(177.6 294.3) scale(.885 1)">4,5</text>
<text class="tick" transform="translate(181.8 425.0) scale(.93 1)">0</text>
<text class="tick" transform="translate(214.0 444.0) scale(.93 1)" text-anchor="middle">0</text>
<text class="tick" transform="translate(402.5 444.0) scale(.93 1)" text-anchor="middle">13</text>
<text class="tick" transform="translate(442.5 444.0) scale(.93 1)" text-anchor="middle">16</text>
<text class="tick" transform="translate(553.0 444.0) scale(.93 1)" text-anchor="middle">24</text>
<text class="ttl" x="235.2" y="491.2" textLength="286.8" lengthAdjust="spacingAndGlyphs">Heures de temps libre d’Angela</text>
<text class="ttl" transform="translate(148.7 344.6) rotate(-90)" textLength="199.2" lengthAdjust="spacingAndGlyphs">Boisseaux de céréales</text>
<!-- bottom chart -->
<path class="ax" d="M211.7 533.3V755 M204.5 748H553.3 M553.3 748V755 M399.5 748V755 M446.3 748V755 M204.5 575.2H212 M204.5 619.8H212"/>
<path class="dash" d="M212 575.2H543.5 M212 619.8H447 M399.5 575.2V748"/>
<path class="grn" d="M552.8 747.0 L552.3 745.5 L551.8 744.0 L551.3 742.4 L550.7 740.9 L550.2 739.4 L549.7 738.0 L549.2 736.5 L548.7 735.0 L548.2 733.5 L547.6 732.1 L547.1 730.6 L546.6 729.1 L546.1 727.7 L545.6 726.3 L545.1 724.8 L544.5 723.4 L544.0 722.0 L543.5 720.5 L543.0 719.1 L542.4 717.7 L541.9 716.3 L541.4 714.9 L540.8 713.5 L540.3 712.1 L539.8 710.7 L539.2 709.3 L538.7 708.0 L538.1 706.6 L537.6 705.2 L537.0 703.8 L536.5 702.5 L535.9 701.1 L535.3 699.8 L534.8 698.4 L534.2 697.1 L533.6 695.7 L533.0 694.4 L532.4 693.0 L531.8 691.7 L531.2 690.4 L530.6 689.1 L530.0 687.7 L529.4 686.4 L528.8 685.1 L528.2 683.8 L527.5 682.5 L526.9 681.1 L526.3 679.8 L525.6 678.5 L525.0 677.2 L524.3 675.9 L523.6 674.6 L522.9 673.3 L522.3 672.0 L521.6 670.7 L520.9 669.4 L520.2 668.1 L519.5 666.8 L518.7 665.5 L518.0 664.3 L517.3 663.0 L516.5 661.7 L515.8 660.4 L515.0 659.1 L514.2 657.8 L513.5 656.5 L512.7 655.2 L511.9 654.0 L511.1 652.7 L510.3 651.4 L509.4 650.1 L508.6 648.8 L507.7 647.5 L506.9 646.3 L506.0 645.0 L505.1 643.7 L504.3 642.4 L503.4 641.1 L502.4 639.8 L501.5 638.6 L500.6 637.3 L499.6 636.0 L498.7 634.7 L497.7 633.5 L496.7 632.2 L495.8 630.9 L494.7 629.7 L493.7 628.4 L492.7 627.2 L491.7 625.9 L490.6 624.7 L489.5 623.4 L488.4 622.2 L487.3 621.0 L486.2 619.8 L485.1 618.6 L484.0 617.4 L482.8 616.2 L481.6 615.0 L480.4 613.8 L479.2 612.6 L478.0 611.5 L476.8 610.3 L475.5 609.2 L474.3 608.0 L473.0 606.9 L471.7 605.8 L470.4 604.7 L469.1 603.6 L467.7 602.5 L466.3 601.4 L465.0 600.4 L463.6 599.3 L462.1 598.3 L460.7 597.2 L459.2 596.2 L457.8 595.2 L456.3 594.3 L454.8 593.3 L453.2 592.3 L451.7 591.4 L450.2 590.5 L448.6 589.6 L447.0 588.7 L445.4 587.9 L443.8 587.0 L442.2 586.2 L440.5 585.4 L438.9 584.6 L437.2 583.9 L435.6 583.2 L433.9 582.5 L432.2 581.8 L430.5 581.2 L428.8 580.6 L427.1 580.0 L425.4 579.4 L423.6 578.9 L421.9 578.4 L420.2 577.9 L418.4 577.5 L416.6 577.1 L414.9 576.7 L413.1 576.4 L411.4 576.1 L409.6 575.8 L407.8 575.6 L406.0 575.4 L404.3 575.3 L402.5 575.2 L400.7 575.1 L398.9 575.1 L397.1 575.1 L395.3 575.1 L393.6 575.2 L391.8 575.3 L390.0 575.5 L388.2 575.7 L386.5 575.9 L384.7 576.2 L382.9 576.5 L381.2 576.9 L379.4 577.3 L377.7 577.7 L376.0 578.2 L374.2 578.7 L372.5 579.2 L370.8 579.7 L369.1 580.3 L367.4 581.0 L365.8 581.6 L364.1 582.3 L362.5 583.0 L360.8 583.7 L359.2 584.5 L357.6 585.3 L356.1 586.1 L354.5 587.0 L352.9 587.9 L351.4 588.8 L349.9 589.7 L348.4 590.7 L346.9 591.7 L345.5 592.7 L344.1 593.7 L342.6 594.8 L341.2 595.9 L339.9 597.0 L338.5 598.1 L337.2 599.2 L335.8 600.4 L334.5 601.6 L333.2 602.8 L332.0 604.0 L330.7 605.2 L329.5 606.4 L328.2 607.7 L327.0 609.0 L325.8 610.3 L324.7 611.6 L323.5 612.9 L322.4 614.2 L321.2 615.5 L320.1 616.8 L319.0 618.2 L317.9 619.5 L316.9 620.9 L315.8 622.3 L314.8 623.6 L313.7 625.0 L312.7 626.4 L311.7 627.8 L310.7 629.2 L309.8 630.6 L308.8 632.0 L307.8 633.4 L306.9 634.7 L306.0 636.1 L305.1 637.5 L304.2 638.9 L303.3 640.3 L302.4 641.7 L301.5 643.0 L300.7 644.4 L299.8 645.8 L299.0 647.1 L298.2 648.5 L297.4 649.8 L296.6 651.2 L295.8 652.5 L295.0 653.9 L294.2 655.2 L293.4 656.5 L292.7 657.9 L291.9 659.2 L291.2 660.5 L290.5 661.9 L289.8 663.2 L289.0 664.5 L288.3 665.8 L287.6 667.1 L287.0 668.5 L286.3 669.8 L285.6 671.1 L284.9 672.4 L284.3 673.7 L283.6 675.0 L283.0 676.3 L282.4 677.7 L281.7 679.0 L281.1 680.3 L280.5 681.6 L279.9 682.9 L279.3 684.2 L278.7 685.5 L278.1 686.9 L277.5 688.2 L276.9 689.5 L276.4 690.8 L275.8 692.2 L275.2 693.5 L274.7 694.8 L274.1 696.1 L273.6 697.5 L273.0 698.8 L272.5 700.2 L271.9 701.5 L271.4 702.9 L270.9 704.2 L270.3 705.6 L269.8 706.9 L269.3 708.3 L268.8 709.7 L268.3 711.0 L267.7 712.4 L267.2 713.8 L266.7 715.2 L266.2 716.6 L265.7 718.0 L265.2 719.4 L264.7 720.8 L264.2 722.2 L263.7 723.7 L263.2 725.1 L262.7 726.5 L262.2 728.0 L261.7 729.4 L261.2 730.9 L260.7 732.4 L260.3 733.8 L259.8 735.3 L259.3 736.8 L258.8 738.3 L258.3 739.8 L257.8 741.3 L257.3 742.9 L256.8 744.4 L256.3 745.9 L255.8 747.5"/>
<path class="arr" d="M446.3 624.5V743.3 M441 631.5L446.3 624.3L451.6 631.5 M441 736.5L446.3 743.5L451.6 736.5"/>
<text class="tick" transform="translate(201.5 577.7) scale(.93 1)" text-anchor="end">6</text>
<text class="tick" transform="translate(177.6 624.7) scale(.865 1)">4,5</text>
<text class="tick" transform="translate(201.5 753.7) scale(.93 1)" text-anchor="end">0</text>
<text class="tick" transform="translate(210.5 772.5) scale(.93 1)" text-anchor="middle">0</text>
<text class="tick" transform="translate(399.3 775.6) scale(.93 1)" text-anchor="middle">13</text>
<text class="tick" transform="translate(446.8 775.6) scale(.93 1)" text-anchor="middle">16</text>
<text class="tick" transform="translate(553.0 775.6) scale(.93 1)" text-anchor="middle">24</text>
<text class="ttl" x="241.4" y="822.4" textLength="286.6" lengthAdjust="spacingAndGlyphs">Heures de temps libre d’Angela</text>
<text class="ttl" transform="translate(148.6 730.6) rotate(-90)" textLength="180.3" lengthAdjust="spacingAndGlyphs">Ce qu’obtient Bruno</text>
</svg>
</body>
</html>
